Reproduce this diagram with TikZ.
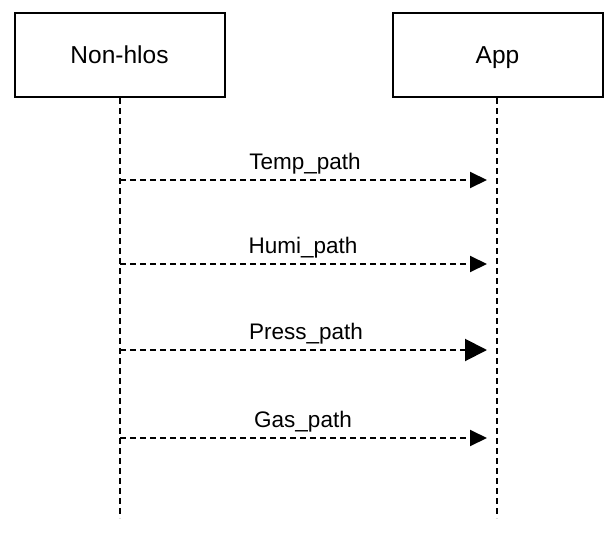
\documentclass[tikz,border=0pt]{standalone}
\usepackage{fontspec}
\setmainfont{Liberation Sans}
\usetikzlibrary{arrows.meta}
\begin{document}
\begin{tikzpicture}[x=1pt,y=-1pt,
  actor/.style={draw=black,line width=2pt,minimum width=210pt,minimum height=84pt,inner sep=0pt},
  atext/.style={font=\fontsize{24.5}{28}\selectfont,inner sep=0pt,anchor=base},
  lifeline/.style={draw=black,line width=2pt,dash pattern=on 6pt off 4pt},
  msg/.style={draw=black,line width=2pt,dash pattern=on 6pt off 4pt,-{Triangle[length=17pt,width=16pt]}},
  bigmsg/.style={msg,-{Triangle[length=22pt,width=22pt]}},
  lbl/.style={font=\fontsize{22.5}{26}\selectfont,inner sep=0pt,anchor=base}]
\useasboundingbox (0,0) rectangle (616,538);
\node[actor] (nh) at (119.5,55) {};
\node[actor] (app) at (497.5,55) {};
\node[atext] (nht) at (119.5,63) {Non-hlos};
\node[atext] (appt) at (497.5,63) {App};
\coordinate (nhend) at (120,518);
\coordinate (append) at (497,518);
\draw[lifeline] (nh.south -| nhend) -- (nhend);
\draw[lifeline] (app.south -| append) -- (append);
\foreach \i/\y in {1/180,2/264,3/350,4/438}{
  \coordinate (s\i) at (120,\y);
  \coordinate (t\i) at (487,\y);
}
\draw[msg] (s1) -- (t1);
\draw[msg] (s2) -- (t2);
\draw[bigmsg] (s3) -- (t3);
\draw[msg] (s4) -- (t4);
\node[lbl] (l1) at (305,169) {Temp\_path};
\node[lbl] (l2) at (303,253) {Humi\_path};
\node[lbl] (l3) at (306,339) {Press\_path};
\node[lbl] (l4) at (303,427) {Gas\_path};
\end{tikzpicture}
\end{document}
